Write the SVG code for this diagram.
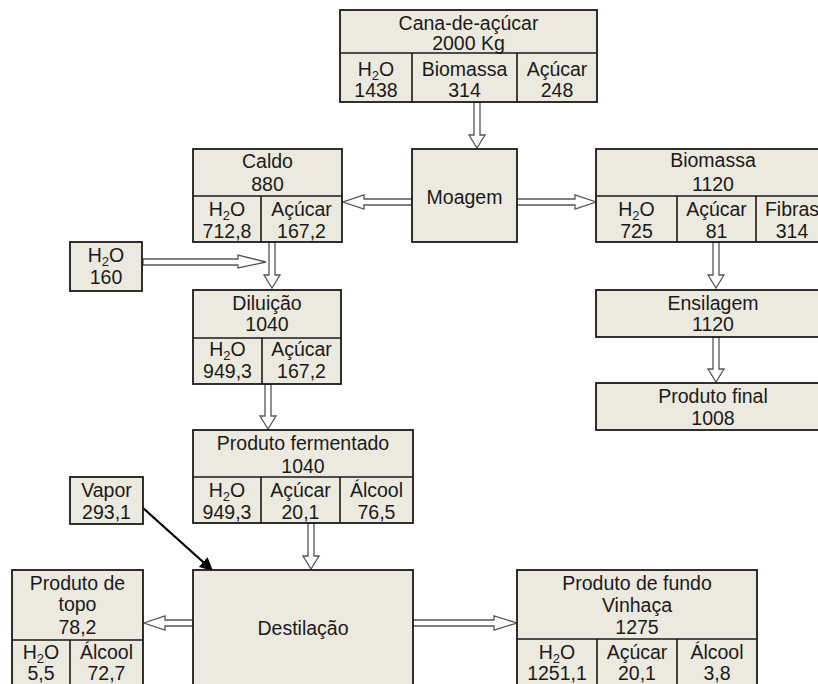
<svg xmlns="http://www.w3.org/2000/svg" width="818" height="684" viewBox="0 0 818 684">
<defs>
<style>
.b{fill:#ECE9DF;stroke:#1a1a1a;stroke-width:1.8}
.d{stroke:#1a1a1a;stroke-width:1.6;fill:none}
text{font-family:"Liberation Sans",Arial,sans-serif;font-size:19.5px;fill:#1a1a1a;text-anchor:middle}
.s{font-size:13px}
.ha{fill:#fff;stroke:#555;stroke-width:1.3;stroke-linejoin:miter}
</style>
<marker id="ah" viewBox="0 0 10 10" refX="9" refY="5" markerWidth="6" markerHeight="6" orient="auto" markerUnits="strokeWidth">
<path d="M0,0 L10,5 L0,10 z" fill="#000"/>
</marker>
</defs>
<rect width="818" height="684" fill="#fff"/>

<g id="connectors">
<path class="ha" d="M474,102 V135 H469 L477,148 L485,135 H480 V102 Z"/>
<path class="ha" d="M412,199 H364 V195 L343,202 L364,209 V205 H412 Z"/>
<path class="ha" d="M517,199 H575 V195 L596,202 L575,209 V205 H517 Z"/>
<path class="ha" d="M713,242 V275 H708 L716,288 L724,275 H719 V242 Z"/>
<path class="ha" d="M713,337 V369 H708 L716,382 L724,369 H719 V337 Z"/>
<path class="ha" d="M143,259 H238 V255 L266,262 L238,268 V265 H143 Z"/>
<path class="ha" d="M269,242 V275 H264 L272,288 L280,275 H275 V242 Z"/>
<path class="ha" d="M265,384 V416 H260 L268,429 L276,416 H271 V384 Z"/>
<path class="ha" d="M308,523 V556 H303 L311,569 L319,556 H314 V523 Z"/>
<path class="ha" d="M193,620 H165 V616 L144,623 L165,630 V626 H193 Z"/>
<path class="ha" d="M413,620 H494 V616 L517,623 L494,630 V626 H413 Z"/>
<line x1="143" y1="508" x2="212" y2="570" stroke="#000" stroke-width="2.2" marker-end="url(#ah)"/>
</g>

<g id="cana">
<rect class="b" x="340" y="10" width="257" height="92"/>
<path class="d" d="M340,53 H597 M412,53 V102 M517,53 V102"/>
<text x="468.5" y="30">Cana-de-açúcar</text>
<text x="468.5" y="50">2000 Kg</text>
<text x="376" y="76">H<tspan class="s" dy="4">2</tspan><tspan dy="-4">O</tspan></text>
<text x="376" y="97">1438</text>
<text x="464.5" y="76">Biomassa</text>
<text x="464.5" y="97">314</text>
<text x="557" y="76">Açúcar</text>
<text x="557" y="97">248</text>
</g>

<g id="moagem">
<rect class="b" x="412" y="149" width="105" height="93"/>
<text x="464.5" y="204">Moagem</text>
</g>

<g id="caldo">
<rect class="b" x="193" y="149" width="149" height="93"/>
<path class="d" d="M193,196 H342 M261,196 V242"/>
<text x="267.5" y="168">Caldo</text>
<text x="267.5" y="191">880</text>
<text x="227" y="216">H<tspan class="s" dy="4">2</tspan><tspan dy="-4">O</tspan></text>
<text x="227" y="238">712,8</text>
<text x="301.5" y="216">Açúcar</text>
<text x="301.5" y="238">167,2</text>
</g>

<g id="biomassa">
<rect class="b" x="596" y="149" width="240" height="93"/>
<path class="d" d="M596,196 H836 M677,196 V242 M756,196 V242"/>
<text x="713" y="167">Biomassa</text>
<text x="713" y="191">1120</text>
<text x="636.5" y="216">H<tspan class="s" dy="4">2</tspan><tspan dy="-4">O</tspan></text>
<text x="636.5" y="238">725</text>
<text x="716.5" y="216">Açúcar</text>
<text x="716.5" y="238">81</text>
<text x="792" y="216">Fibras</text>
<text x="792" y="238">314</text>
</g>

<g id="ensilagem">
<rect class="b" x="596" y="290" width="240" height="47"/>
<text x="713" y="310">Ensilagem</text>
<text x="713" y="331">1120</text>
</g>

<g id="produto-final">
<rect class="b" x="596" y="383" width="240" height="47"/>
<text x="713" y="403">Produto final</text>
<text x="713" y="425">1008</text>
</g>

<g id="agua">
<rect class="b" x="70" y="242" width="72" height="49"/>
<text x="106" y="262">H<tspan class="s" dy="4">2</tspan><tspan dy="-4">O</tspan></text>
<text x="106" y="284">160</text>
</g>

<g id="diluicao">
<rect class="b" x="193" y="290" width="148" height="94"/>
<path class="d" d="M193,338 H341 M262,338 V384"/>
<text x="267" y="310">Diluição</text>
<text x="267" y="331">1040</text>
<text x="227.5" y="356">H<tspan class="s" dy="4">2</tspan><tspan dy="-4">O</tspan></text>
<text x="227.5" y="378">949,3</text>
<text x="301.5" y="356">Açúcar</text>
<text x="301.5" y="378">167,2</text>
</g>

<g id="fermentado">
<rect class="b" x="193" y="430" width="220" height="93"/>
<path class="d" d="M193,477 H413 M261,477 V523 M340,477 V523"/>
<text x="303" y="450">Produto fermentado</text>
<text x="303" y="473">1040</text>
<text x="227" y="497">H<tspan class="s" dy="4">2</tspan><tspan dy="-4">O</tspan></text>
<text x="227" y="519">949,3</text>
<text x="300.5" y="497">Açúcar</text>
<text x="300.5" y="519">20,1</text>
<text x="376.5" y="497">Álcool</text>
<text x="376.5" y="519">76,5</text>
</g>

<g id="vapor">
<rect class="b" x="70" y="477" width="73" height="47"/>
<text x="106.5" y="497">Vapor</text>
<text x="106.5" y="519">293,1</text>
</g>

<g id="destilacao">
<rect class="b" x="193" y="570" width="220" height="130"/>
<text x="303" y="635">Destilação</text>
</g>

<g id="topo">
<rect class="b" x="12" y="570" width="131" height="130"/>
<path class="d" d="M12,640 H143 M70,640 V700"/>
<text x="77.5" y="590">Produto de</text>
<text x="77.5" y="611">topo</text>
<text x="77.5" y="634">78,2</text>
<text x="41" y="659">H<tspan class="s" dy="4">2</tspan><tspan dy="-4">O</tspan></text>
<text x="41" y="680">5,5</text>
<text x="106.5" y="659">Álcool</text>
<text x="106.5" y="680">72,7</text>
</g>

<g id="fundo">
<rect class="b" x="517" y="570" width="240" height="130"/>
<path class="d" d="M517,639 H757 M597,639 V700 M677,639 V700"/>
<text x="637" y="590">Produto de fundo</text>
<text x="637" y="612">Vinhaça</text>
<text x="637" y="634">1275</text>
<text x="557" y="659">H<tspan class="s" dy="4">2</tspan><tspan dy="-4">O</tspan></text>
<text x="557" y="680">1251,1</text>
<text x="637" y="659">Açúcar</text>
<text x="637" y="680">20,1</text>
<text x="717" y="659">Álcool</text>
<text x="717" y="680">3,8</text>
</g>
</svg>
